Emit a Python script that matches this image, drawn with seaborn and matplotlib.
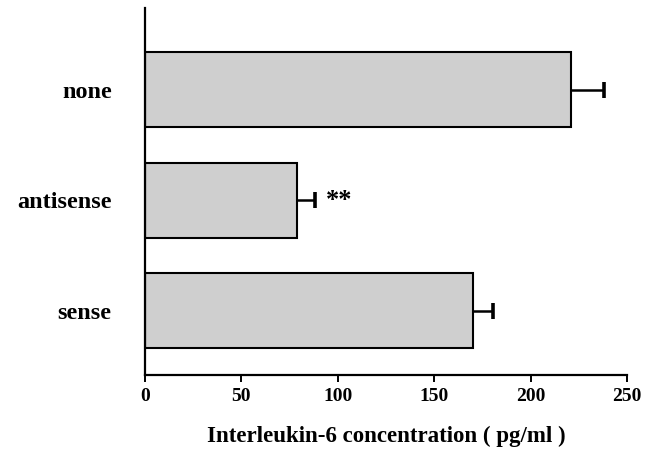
import numpy as np
import pandas as pd
import matplotlib
matplotlib.use("Agg")
import matplotlib.pyplot as plt
import seaborn as sns

sns.set_theme(style="white")
plt.rcParams['font.family'] = ['Liberation Serif', 'DejaVu Serif']
plt.rcParams['font.weight'] = 'bold'
plt.rcParams['text.color'] = 'black'
plt.rcParams['xtick.color'] = 'black'
plt.rcParams['ytick.color'] = 'black'
plt.rcParams['axes.labelcolor'] = 'black'

# data
groups = ["none", "antisense", "sense"]
il6 = [221, 79, 170]
il6_err = [17, 9, 10.5]
marks = ["", "**", ""]

df = pd.DataFrame({"group": groups, "il6": il6})

fig = plt.figure(figsize=(6.67, 4.49), dpi=100)
ax = fig.add_axes([0.2174, 0.1648, 0.7226, 0.8174])

sns.barplot(data=df, x="il6", y="group", orient="h", color="#cfcfcf",
            saturation=1, width=0.68, edgecolor="black", linewidth=1.5,
            errorbar=None, ax=ax)

# one-sided error bars: line from bar end plus a cap at the top only
ypos = np.arange(len(groups))
tops = np.array(il6) + np.array(il6_err)
ax.hlines(ypos, il6, tops, color="black", linewidth=1.8, zorder=5)
ax.plot(tops, ypos, linestyle="none", marker="|", markersize=11.5,
        markeredgewidth=2.6, color="black", zorder=5)

for x, e, y, m in zip(il6, il6_err, ypos, marks):
    if m:
        ax.text(x + e + 6, y, m, va="center", ha="left", fontsize=19,
                fontweight="bold")

ax.set_xlim(0, 250)
ax.set_ylim(2.58, -0.74)
ax.set_xticks([0, 50, 100, 150, 200, 250])
ax.set_xlabel("Interleukin-6 concentration ( pg/ml )", fontsize=16.5,
              fontweight="bold", labelpad=15)
ax.set_ylabel("")

for s in ["top", "right"]:
    ax.spines[s].set_visible(False)
for s in ["left", "bottom"]:
    ax.spines[s].set_color("black")
    ax.spines[s].set_linewidth(1.6)

ax.tick_params(axis="y", length=0, pad=24, labelsize=17.5)
ax.tick_params(axis="x", direction="out", length=5, width=1.4,
               labelsize=14, pad=4, bottom=True)

plt.savefig("out.png", dpi=100)
